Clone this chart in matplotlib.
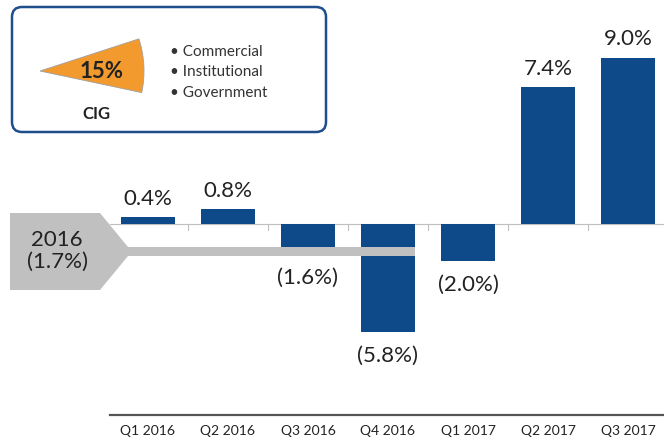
import matplotlib.pyplot as plt
from matplotlib.patches import Polygon, FancyBboxPatch, Wedge

plt.rcParams['font.family'] = ['Lato', 'DejaVu Sans']

quarters = ['Q1 2016', 'Q2 2016', 'Q3 2016', 'Q4 2016', 'Q1 2017', 'Q2 2017', 'Q3 2017']
growth = [0.4, 0.8, -1.6, -5.8, -2.0, 7.4, 9.0]
year_label = '2016\n(1.7%)'
segments = ['Commercial', 'Institutional', 'Government']
share_label = '15%'
group_label = 'CIG'

W, H = 664, 446
fig = plt.figure(figsize=(W / 100, H / 100), dpi=100)

# main chart axes, placed in pixel terms
ax = fig.add_axes([110 / W, 31 / H, 554 / W, 395 / H])
ax.set_xlim(-0.475, 6.45)
ax.set_ylim(-10.3, 11.03)

x = list(range(len(quarters)))
ax.bar(x, growth, width=0.675, color='#0e4a8a', zorder=2)

# faint zero axis with ticks between categories
ax.axhline(0, color='#bfbfbf', lw=0.8, zorder=1)
for t in [i + 0.5 for i in range(len(quarters) - 1)]:
    ax.plot([t, t], [0, -0.3], color='#bfbfbf', lw=0.8, zorder=1)

for xi, v in zip(x, growth):
    txt = f'{v:.1f}%' if v >= 0 else f'({abs(v):.1f}%)'
    if v >= 0:
        ax.annotate(txt, (xi, v), xytext=(0, 6), textcoords='offset points',
                    ha='center', va='bottom', fontsize=16, color='#222222')
    else:
        ax.annotate(txt, (xi, v), xytext=(0, -10), textcoords='offset points',
                    ha='center', va='top', fontsize=16, color='#222222')

for s in ['top', 'right', 'left']:
    ax.spines[s].set_visible(False)
ax.spines['bottom'].set_position(('data', -10.3))
ax.spines['bottom'].set_color('#555555')
ax.spines['bottom'].set_linewidth(1.6)
ax.set_yticks([])
ax.set_xticks(x)
ax.set_xticklabels(quarters, fontsize=10, color='#222222')
ax.tick_params(axis='x', length=0, pad=7)

# overlay in pixel coordinates
ov = fig.add_axes([0, 0, 1, 1], zorder=5)
ov.set_xlim(0, W)
ov.set_ylim(H, 0)
ov.axis('off')
ov.patch.set_alpha(0)

# 2016 arrow callout
arrow = Polygon([(10, 213), (100, 213), (128, 247), (415, 247), (415, 256),
                 (128, 256), (100, 290), (10, 290)], closed=True,
                facecolor='#c0c0c0', edgecolor='none')
ov.add_patch(arrow)
ov.text(57, 251, year_label, ha='center', va='center', fontsize=16,
        color='#222222', linespacing=1.1)

# legend box
box = FancyBboxPatch((12, 7), 314, 125, boxstyle='round,pad=0,rounding_size=10',
                     facecolor='white', edgecolor='#1f4e8c', lw=1.8)
ov.add_patch(box)
wedge = Wedge((40, 71), 104, -18, 12, facecolor='#f39a2e', edgecolor='#a0a0a0', lw=0.6)
ov.add_patch(wedge)
ov.text(102, 71, share_label, ha='center', va='center', fontsize=16,
        fontweight='bold', color='#222222')
ov.text(96, 114, group_label, ha='center', va='center', fontsize=12,
        fontweight='bold', color='#222222')
for i, seg in enumerate(segments):
    ov.text(170, 52 + i * 20.5, '\u2022 ' + seg, ha='left', va='center',
            fontsize=11, color='#333333')

fig.savefig('out.png', dpi=100)
